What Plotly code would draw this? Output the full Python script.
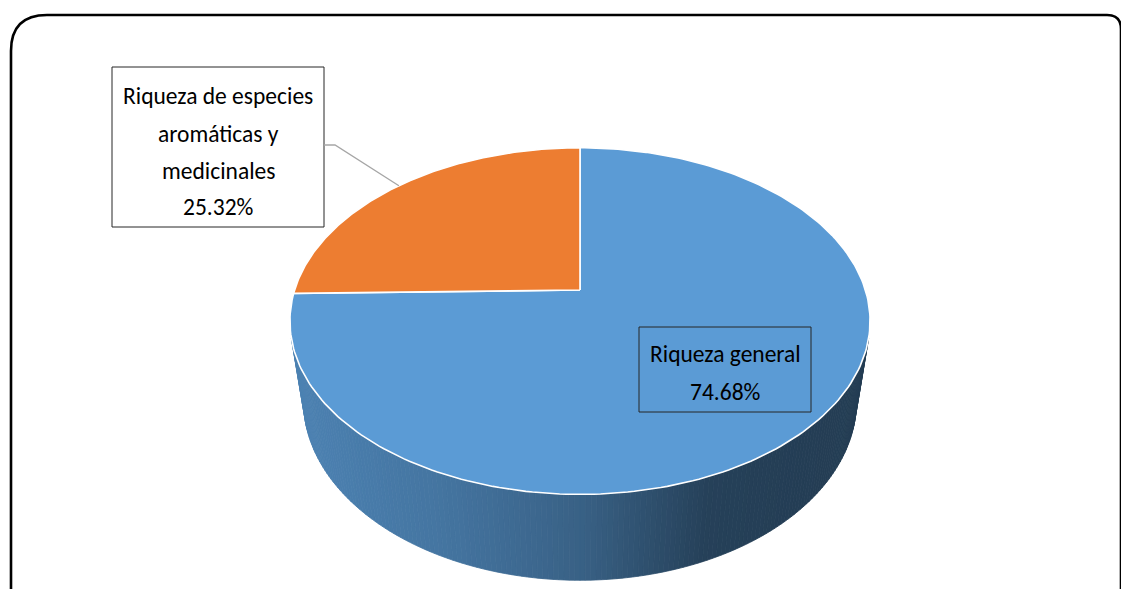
import numpy as np
import plotly.graph_objects as go

# ---- data -------------------------------------------------------------
categories = ["Riqueza general", "Riqueza de especies aromáticas y medicinales"]
shares = [74.68, 25.32]
label_lines = [["Riqueza general", "74.68%"],
               ["Riqueza de especies", "aromáticas y", "medicinales", "25.32%"]]
slice_colors = ["#5B9BD5", "#ED7D31"]

# ---- 3-D pie geometry (perspective view of a flat cylinder) -----------
W, H = 1121, 589
CX, CY = 580, 290            # screen position of the pie's centre
TILT = np.radians(36)        # camera elevation
DIST = 4.51                  # camera distance (in pie radii)
FOCAL = 1287                 # projection scale
DEPTH = 0.365                # thickness of the pie (in pie radii)
START = 90                   # first slice starts at 12 o'clock, clockwise


def project(theta_deg, height=0.0):
    t = np.radians(np.asarray(theta_deg, dtype=float))
    X, Z = np.cos(t), np.sin(t)
    yc = height * np.cos(TILT) + Z * np.sin(TILT)
    zc = -height * np.sin(TILT) + Z * np.cos(TILT) + DIST
    return CX + FOCAL * X / zc, CY - FOCAL * yc / zc


def hex_rgb(h):
    h = h.lstrip("#")
    return np.array([int(h[i:i + 2], 16) for i in (0, 2, 4)], dtype=float)


cum = np.concatenate([[0], np.cumsum(shares)]) / np.sum(shares) * 360.0
spans = [(START - cum[i], START - cum[i + 1]) for i in range(len(shares))]


def slice_at(theta):
    for i, (a0, a1) in enumerate(spans):
        th = theta
        while th > a0:
            th -= 360
        while th < a1:
            th += 360
        if a1 <= th <= a0:
            return i
    return 0


fig = go.Figure()

# ---- side wall: thin strips shaded from left to right -----------------
lim = np.degrees(np.arcsin(1.0 / (DIST * np.cos(TILT))))
t_lo, t_hi = 180 + lim, 360 - lim
n_strips = 160
edges = np.linspace(t_lo, t_hi, n_strips + 1)
xl, _ = project(180 + lim)
xr, _ = project(360 - lim)
shade_s = [0.0, 0.25, 0.5, 0.72, 1.0]
shade_f = [0.84, 0.76, 0.63, 0.42, 0.39]
for k in range(n_strips):
    ts = np.linspace(edges[k], edges[k + 1], 3)
    xt, yt = project(ts, 0.0)
    xb, yb = project(ts[::-1], -DEPTH)
    xs = np.concatenate([xt, xb, xt[:1]])
    ys = np.concatenate([yt, yb, yt[:1]])
    xm = xs.mean()
    s = (xm - xl) / (xr - xl)
    f = np.interp(s, shade_s, shade_f)
    base = hex_rgb(slice_colors[slice_at(0.5 * (edges[k] + edges[k + 1]))])
    c = "rgb(%d,%d,%d)" % tuple(np.clip(base * f, 0, 255).astype(int))
    fig.add_trace(go.Scatter(x=xs, y=ys, mode="lines", fill="toself",
                             fillcolor=c, line=dict(color=c, width=0.8),
                             hoverinfo="skip", showlegend=False))

# ---- top face: one wedge per category ---------------------------------
for i, (a0, a1) in enumerate(spans):
    ts = np.linspace(a0, a1, 240)
    xr_, yr_ = project(ts, 0.0)
    xs = np.concatenate([[CX], xr_, [CX]])
    ys = np.concatenate([[CY], yr_, [CY]])
    fig.add_trace(go.Scatter(x=xs, y=ys, mode="lines", fill="toself",
                             fillcolor=slice_colors[i],
                             line=dict(color="white", width=1.6),
                             name=categories[i], hoverinfo="name",
                             showlegend=False))

# ---- data labels --------------------------------------------------------
FONT = dict(family="Carlito, Calibri, Lato, sans-serif", size=23.5, color="#000000")
shapes = []
annotations = []

boxes = [  # (x0, y0, x1, y1, line centres)
    (639, 327, 811, 412, [354, 392]),
    (112, 67, 324, 227, [96, 134, 171, 207]),
]
for i, (x0, y0, x1, y1, rows) in enumerate(boxes):
    shapes.append(dict(type="rect", xref="x", yref="y", x0=x0, y0=y0, x1=x1, y1=y1,
                       line=dict(color="#262626", width=1),
                       fillcolor="rgba(0,0,0,0)", layer="above"))
    for txt, yy in zip(label_lines[i], rows):
        annotations.append(dict(x=(x0 + x1) / 2, y=yy, xref="x", yref="y",
                                text=txt, showarrow=False, font=FONT,
                                xanchor="center", yanchor="middle"))

# leader line from the small-slice label to its wedge rim (mid angle)
mid = 0.5 * (spans[1][0] + spans[1][1])
lx, ly = project(mid, 0.0)
shapes.append(dict(type="path", xref="x", yref="y",
                   path="M 324,145 L 335,145 L %.1f,%.1f" % (float(lx), float(ly)),
                   line=dict(color="#A6A6A6", width=1.3), layer="above"))

# chart-area frame with rounded corners
shapes.append(dict(type="path", xref="x", yref="y",
                   path="M 11,605 L 11,51 Q 11,15 47,15 L 1107,15 Q 1121,15 1121,29 L 1121,605",
                   line=dict(color="#000000", width=2.6), layer="above"))

fig.update_layout(
    width=W, height=H,
    margin=dict(l=0, r=0, t=0, b=0),
    paper_bgcolor="white", plot_bgcolor="white",
    xaxis=dict(range=[0, W], visible=False, fixedrange=True),
    yaxis=dict(range=[H, 0], visible=False, fixedrange=True),
    shapes=shapes, annotations=annotations,
    showlegend=False,
)

fig.write_html("out.html")
